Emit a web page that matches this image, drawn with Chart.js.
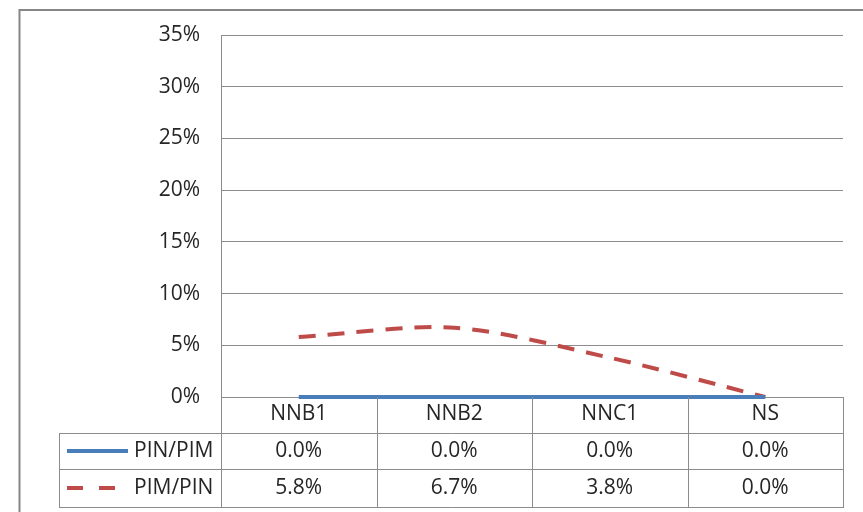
<!DOCTYPE html>
<html>
<head>
<meta charset="utf-8">
<script src="https://cdn.jsdelivr.net/npm/chart.js@4.4.1/dist/chart.umd.min.js"></script>
<style>
  html, body { margin: 0; padding: 0; background: #fff; }
  #wrap { width: 863px; height: 512px; position: relative; }
</style>
</head>
<body>
<div id="wrap"><canvas id="c" width="863" height="512"></canvas></div>
<script>
const categories = ['NNB1', 'NNB2', 'NNC1', 'NS'];
const seriesNames = ['PIN/PIM', 'PIM/PIN'];
const pinPim = [0.0, 0.0, 0.0, 0.0];
const pimPin = [5.8, 6.7, 3.8, 0.0];
const yTicks = [0, 5, 10, 15, 20, 25, 30, 35];

const FONT = '"Open Sans", "DejaVu Sans", sans-serif';
const FS = 21;
const GRID = '#8c8c8c';
const TEXT = '#262626';

const tablePlugin = {
  id: 'dataTable',
  beforeDraw(chart) {
    const ctx = chart.ctx;
    ctx.save();
    ctx.fillStyle = '#ffffff';
    ctx.fillRect(0, 0, chart.width, chart.height);
    ctx.strokeStyle = '#868686';
    ctx.lineWidth = 2;
    ctx.strokeRect(19.5, 10, 900, 600);
    ctx.restore();
  },
  afterDraw(chart) {
    const ctx = chart.ctx;
    const ca = chart.chartArea;
    const n = categories.length;
    const colW = (ca.right - ca.left) / n;
    const tableLeft = 59;
    const rows = [ca.bottom, ca.bottom + 36, ca.bottom + 72, ca.bottom + 110];
    ctx.save();
    ctx.strokeStyle = GRID;
    ctx.lineWidth = 1;
    const px = v => Math.round(v) + 0.5;
    ctx.beginPath();
    ctx.moveTo(px(ca.left), ca.top);
    ctx.lineTo(px(ca.left), rows[3]);
    for (let i = 1; i <= n; i++) {
      const x = px(ca.left + i * colW);
      ctx.moveTo(x, rows[0]);
      ctx.lineTo(x, rows[3]);
    }
    ctx.moveTo(px(tableLeft), rows[1]);
    ctx.lineTo(px(tableLeft), rows[3]);
    for (let r = 1; r <= 3; r++) {
      ctx.moveTo(tableLeft, px(rows[r]));
      ctx.lineTo(px(ca.right) + 0.5, px(rows[r]));
    }
    ctx.stroke();

    ctx.font = FS + 'px ' + FONT;
    ctx.fillStyle = TEXT;
    ctx.textBaseline = 'middle';
    chart.data.datasets.forEach((ds, r) => {
      const yc = (rows[r + 1] + rows[r + 2]) / 2;
      ctx.save();
      ctx.strokeStyle = ds.borderColor;
      ctx.lineWidth = ds.borderWidth;
      ctx.setLineDash(ds.borderDash ? [16, 16] : []);
      ctx.beginPath();
      ctx.moveTo(67, yc);
      ctx.lineTo(128, yc);
      ctx.stroke();
      ctx.restore();
      ctx.textAlign = 'left';
      ctx.fillText(ds.label, 134, yc);
      ctx.textAlign = 'center';
      ds.data.forEach((v, i) => {
        ctx.fillText(v.toFixed(1) + '%', ca.left + (i + 0.5) * colW, yc);
      });
    });
    ctx.restore();
  }
};

new Chart(document.getElementById('c'), {
  type: 'line',
  data: {
    labels: categories,
    datasets: [
      {
        label: seriesNames[0],
        data: pinPim,
        borderColor: '#4a7ebb',
        borderWidth: 4,
        pointRadius: 0,
        tension: 0.3,
        clip: false,
        fill: false
      },
      {
        label: seriesNames[1],
        data: pimPin,
        borderColor: '#be4b48',
        borderWidth: 4,
        borderDash: [17, 12],
        pointRadius: 0,
        tension: 0.3,
        clip: false,
        fill: false
      }
    ]
  },
  options: {
    responsive: false,
    animation: false,
    devicePixelRatio: 1,
    layout: { padding: { left: 0, right: 20, top: 35, bottom: 79 } },
    plugins: { legend: { display: false }, tooltip: { enabled: false } },
    scales: {
      x: {
        offset: true,
        grid: { display: false, drawTicks: false },
        border: { display: false },
        ticks: { color: TEXT, font: { family: FONT, size: FS }, padding: 4, maxRotation: 0 },
        afterFit(s) { s.height = 36; }
      },
      y: {
        min: 0,
        max: 35,
        afterBuildTicks(s) { s.ticks = yTicks.map(v => ({ value: v })); },
        grid: { color: GRID, lineWidth: 1, drawTicks: false },
        border: { display: false },
        ticks: {
          color: TEXT,
          font: { family: FONT, size: FS },
          padding: 21,
          callback: v => v + '%'
        },
        afterFit(s) { s.width = 221; }
      }
    }
  },
  plugins: [tablePlugin]
});
</script>
</body>
</html>
